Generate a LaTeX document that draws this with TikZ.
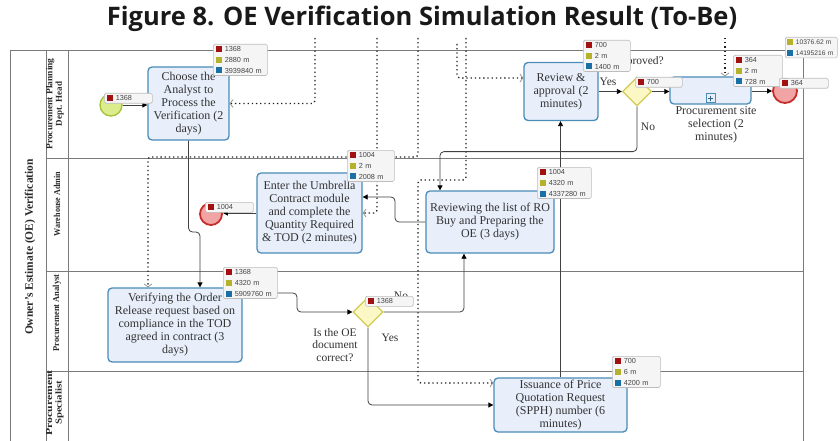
\documentclass[tikz,border=0pt]{standalone}
\usepackage{fontspec}
\setmainfont{Liberation Serif}
\newfontfamily\infofont{Liberation Sans}
\newfontfamily\titlefont{Open Sans}
\usetikzlibrary{arrows.meta,shapes.geometric,calc}

\definecolor{taskfill}{HTML}{E8EEFA}
\definecolor{taskedge}{HTML}{4A8DB8}
\definecolor{tasktext}{HTML}{333333}
\definecolor{gatefill}{HTML}{FBF8C6}
\definecolor{gateedge}{HTML}{D2CA55}
\definecolor{startfill}{HTML}{DCEB8C}
\definecolor{startedge}{HTML}{A3C23A}
\definecolor{endfill}{HTML}{F2A3A3}
\definecolor{endedge}{HTML}{C62E2E}
\definecolor{laneline}{HTML}{7A7A7A}
\definecolor{lanetext}{HTML}{2A2A2A}
\definecolor{flowline}{HTML}{404040}
\definecolor{msgline}{HTML}{1E1E1E}
\definecolor{barb}{HTML}{8C8C8C}
\definecolor{infofill}{HTML}{F5F5F5}
\definecolor{infoedge}{HTML}{BDBDBD}
\definecolor{infotext}{HTML}{454545}
\definecolor{sqred}{HTML}{A31010}
\definecolor{sqolive}{HTML}{B3B22A}
\definecolor{sqblue}{HTML}{1A6FA6}

% coloured square in front of a simulation figure
\newcommand{\msq}[1]{{\color{#1}\rule[-0.4pt]{6pt}{6pt}}\hspace{2.5pt}}

\begin{document}
\begin{tikzpicture}[x=1pt,y=-1pt,
  lane/.style={draw=laneline, line width=0.9pt},
  task/.style={draw=taskedge, fill=taskfill, rounded corners=4pt, line width=1.3pt,
    align=center, inner sep=1pt, text=tasktext, font=\fontsize{12}{13}\selectfont},
  gate/.style={diamond, aspect=1, draw=gateedge, fill=gatefill, line width=1.2pt,
    minimum size=29pt, inner sep=0pt},
  startev/.style={circle, draw=startedge, fill=startfill, line width=1.3pt,
    minimum size=22pt, inner sep=0pt},
  endev/.style={circle, draw=endedge, fill=endfill, line width=1.8pt,
    minimum size=22pt, inner sep=0pt},
  flow/.style={draw=flowline, line width=0.8pt, rounded corners=4pt,
    -{Triangle[length=5pt,width=5pt,color=black]}},
  msg/.style={draw=msgline, line width=1.3pt, dash pattern=on 1.3pt off 2.9pt,
    rounded corners=3pt, -{Straight Barb[length=3pt,width=8pt,line width=0.7pt,color=barb]}},
  info/.style={draw=infoedge, fill=infofill, rounded corners=1.5pt, line width=0.6pt,
    anchor=north west, inner xsep=3pt, inner ysep=2pt, align=left, text=infotext,
    font=\infofont\fontsize{7.3}{10.6}\selectfont},
  tag/.style={font=\fontsize{11.5}{13}\selectfont, text=tasktext, align=center, inner sep=0pt},
  lanelabel/.style={rotate=90, font=\bfseries\fontsize{9}{9.5}\selectfont, align=center,
    inner sep=0pt, text=lanetext}
]
\useasboundingbox (0,0) rectangle (840,441);
\fill[white] (0,0) rectangle (840,441);

% title
\node[font=\titlefont\bfseries\fontsize{25.5}{30}\selectfont, text=black!90] (title) at (422,19)
  {Figure 8. OE Verification Simulation Result (To-Be)};

% pool and lanes
\draw[lane] (10,50) -- (803,50);
\draw[lane] (10,50) -- (10,441);
\draw[lane] (46,50) -- (46,441);
\draw[lane] (68,50) -- (68,441);
\draw[lane] (803,50) -- (803,441);
\draw[lane] (46,158) -- (803,158);
\draw[lane] (46,271) -- (803,271);
\draw[lane] (46,371) -- (803,371);

\node[lanelabel, font=\bfseries\fontsize{11.5}{12}\selectfont] (pool) at (30,247)
  {Owner's Estimate (OE) Verification};
\node[lanelabel] (l1) at (55,104) {\scalebox{1.05}[1]{Procurement Planning}\\Dept. Head};
\node[lanelabel] (l2) at (57,204) {\scalebox{0.9}[1]{Warehouse Admin}};
\node[lanelabel] (l3) at (57,313) {\scalebox{0.94}[1]{Procurement Analyst}};
\node[lanelabel] (l4) at (55,403) {\scalebox{1.3}[1]{Procurement}\\\scalebox{1.2}[1]{Specialist}};

% activities
\node[task, minimum width=81pt, minimum height=73pt] (choose) at (188.5,103.5)
  {Choose the\\Analyst to\\Process the\\Verification (2\\days)};
\node[task, minimum width=105pt, minimum height=80pt] (umbrella) at (309.5,213)
  {Enter the Umbrella\\Contract module\\and complete the\\Quantity Required\\\& TOD (2 minutes)};
\node[task, minimum width=128pt, minimum height=62pt] (reviewing) at (490,222)
  {Reviewing the list of RO\\Buy and Preparing the\\OE (3 days)};
\node[task, minimum width=134pt, minimum height=74pt] (verifying) at (175,325)
  {Verifying the Order\\Release request based on\\compliance in the TOD\\agreed in contract (3\\days)};
\node[task, minimum width=133pt, minimum height=54pt] (issuance) at (560.5,405)
  {Issuance of Price\\Quotation Request\\(SPPH) number (6\\minutes)};
\node[task, minimum width=74pt, minimum height=58pt] (review) at (561,91.5)
  {Review \&\\approval (2\\minutes)};
\node[task, minimum width=81pt, minimum height=27pt] (site) at (710.5,90.5) {};
\node[draw=taskedge, fill=taskfill, line width=0.9pt, minimum size=9pt, inner sep=0pt,
  anchor=south] (plus) at ([yshift=1.5pt]site.south) {};
\draw[taskedge!70!black, line width=1.1pt] ($(plus.center)+(-2.6,0)$) -- ($(plus.center)+(2.6,0)$);
\draw[taskedge!70!black, line width=1.1pt] ($(plus.center)+(0,-2.6)$) -- ($(plus.center)+(0,2.6)$);
\node[tag, font=\fontsize{12}{13}\selectfont] (sitetext) at (716,125)
  {Procurement site\\selection (2\\minutes)};

% gateways and events
\node[gate] (approve) at (637,91.5) {};
\node[gate, minimum size=30pt] (check) at (368,312) {};
\node[startev] (start) at (111,105) {};
\node[endev] (end1) at (211,214) {};
\node[endev, minimum size=24pt] (end2) at (785,91) {};

% message flows entering from above
\coordinate (mA) at (315,38);
\coordinate (mB) at (377,38);
\coordinate (mC) at (418,38);
\coordinate (mD) at (457,44);
\coordinate (mE) at (466,38);
\coordinate (mF) at (725,38);
\coordinate (cC1) at (418,157);
\coordinate (cC2) at (148,157);
\coordinate (cE1) at (466,180);
\coordinate (cE2) at (418,180);

\draw[msg] (mA) |- (choose.east);
\draw[msg] (mB) |- (umbrella.east);
\draw[msg] (mC) -- (cC1) -- (cC2) -- (cC2 |- verifying.north);
\draw[msg] (mD) |- ([yshift=13.5pt]review.west);
\draw[msg] (mE) -- (cE1) -- (cE2) |- ([yshift=22pt]issuance.west);
\draw[msg] (mF) -- (mF |- site.north);

% sequence flows
\coordinate (j2) at (200,232);
\coordinate (j3) at (297,312);
\coordinate (j4) at (464,0);
\coordinate (j5) at (440,0);
\coordinate (j6) at (395,197);

\draw[flow] (start.east) -- (start.east -| choose.west);
\draw[flow] (choose.south) |- (j2) -- (j2 |- verifying.north);
\draw[flow] ([yshift=32pt]verifying.east) -| (j3) -- (check.west);
\draw[flow] (check.east) -| (reviewing.south -| j4);
\draw[flow] (check.south) |- (issuance.west);
\draw[flow] (issuance.north) -- (issuance.north |- review.south);
\draw[flow] (review.east) -- (approve.west);
\draw[flow] (approve.east) -- (approve.east -| site.west);
\draw[flow] (end2.west -| site.east) -- (end2.west);
\draw[flow] (approve.south) -- ++(0,45) -| (reviewing.north -| j5);
\draw[flow] (reviewing.west) -| (j6) -- ([yshift=16pt]umbrella.east);
\draw[flow] (umbrella.west) -- (umbrella.west -| end1.east);

% gateway labels
\node[tag, anchor=east] (apq) at (664,62) {Approved?};
\node[tag] (apyes) at (608,82) {Yes};
\node[tag] (apno) at (648,127) {No};
\node[tag] (chno) at (401,296) {No};
\node[tag] (chyes) at (390,338) {Yes};
\node[tag, font=\fontsize{11.5}{12.8}\selectfont] (chq) at (335,345) {Is the OE\\document\\correct?};

% simulation figures
\node[info, text width=42pt] (iStart) at (104,93) {\msq{sqred}1368};
\node[info, text width=48pt] (iChoose) at (213,44)
  {\msq{sqred}1368\\\msq{sqolive}2880 m\\\msq{sqblue}3939840 m};
\node[info, text width=41pt] (iUmb) at (347,150)
  {\msq{sqred}1004\\\msq{sqolive}2 m\\\msq{sqblue}2008 m};
\node[info, text width=42pt] (iEnd1) at (205,202) {\msq{sqred}1004};
\node[info, text width=48pt] (iRev) at (537,167)
  {\msq{sqred}1004\\\msq{sqolive}4320 m\\\msq{sqblue}4337280 m};
\node[info, text width=48pt] (iVer) at (223,267)
  {\msq{sqred}1368\\\msq{sqolive}4320 m\\\msq{sqblue}5909760 m};
\node[info, text width=42pt] (iCheck) at (365,296) {\msq{sqred}1368};
\node[info, text width=42pt] (iIss) at (612,356)
  {\msq{sqred}700\\\msq{sqolive}6 m\\\msq{sqblue}4200 m};
\node[info, text width=41pt] (iReview) at (583,40)
  {\msq{sqred}700\\\msq{sqolive}2 m\\\msq{sqblue}1400 m};
\node[info, text width=41pt] (iApprove) at (635,77) {\msq{sqred}700};
\node[info, text width=43pt] (iSite) at (733,55)
  {\msq{sqred}364\\\msq{sqolive}2 m\\\msq{sqblue}728 m};
\node[info, text width=43pt] (iEnd2) at (779,78) {\msq{sqred}364};
\node[info, inner xsep=2pt, text width=48pt, font=\infofont\fontsize{6.7}{10.6}\selectfont]
  (iTotal) at (785,37)
  {\msq{sqolive}10376.62 m\\\msq{sqblue}14195216 m};
\end{tikzpicture}
\end{document}
